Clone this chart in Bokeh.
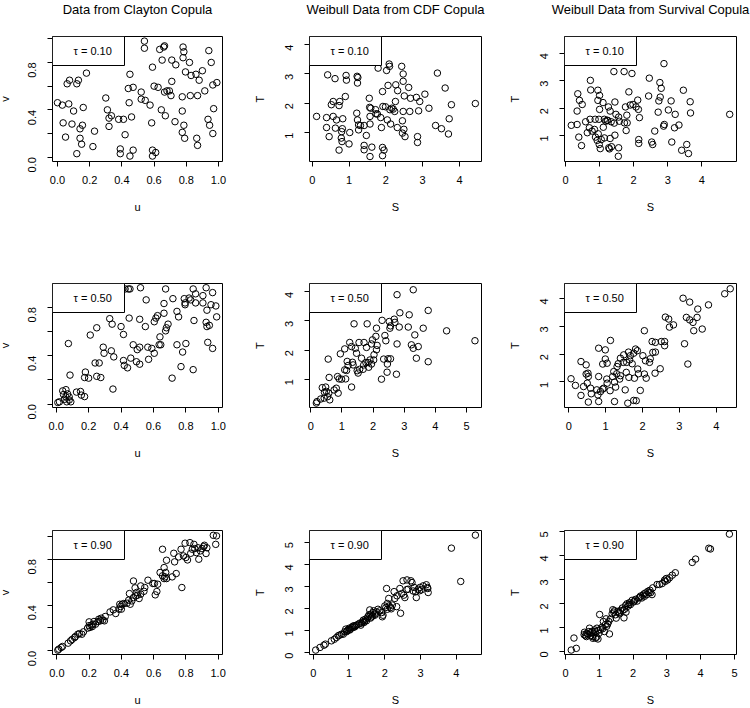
from bokeh.plotting import figure
from bokeh.models import FixedTicker, BoxAnnotation, Label, Range1d, PrintfTickFormatter, LinearAxis
from bokeh.layouts import row, column
from bokeh.embed import file_html
from bokeh.resources import INLINE

FONT = "Liberation Sans"

titles = ["Data from Clayton Copula", "Weibull Data from CDF Copula", "Weibull Data from Survival Copula"]
tau_labels = ["\u03c4 = 0.10", "\u03c4 = 0.50", "\u03c4 = 0.90"]
x_names = ["u", "S", "S"]
y_names = ["v", "T", "T"]

# ---------------- tau = 0.10 ----------------
clayton_u_t10 = [0.00, 0.03, 0.07, 0.10, 0.035, 0.09, 0.05, 0.06, 0.075, 0.12,
                 0.13, 0.18, 0.16, 0.155, 0.14, 0.14, 0.15, 0.12, 0.22, 0.23,
                 0.30, 0.31, 0.32, 0.335, 0.32, 0.38, 0.41, 0.42, 0.39, 0.39,
                 0.45, 0.44, 0.47, 0.445, 0.46, 0.47, 0.45, 0.52, 0.52, 0.545,
                 0.575, 0.54, 0.54, 0.59, 0.60, 0.625, 0.585, 0.59, 0.61, 0.59,
                 0.635, 0.66, 0.665, 0.65, 0.665, 0.68, 0.695, 0.705, 0.645, 0.67,
                 0.71, 0.71, 0.735, 0.73, 0.78, 0.785, 0.78, 0.795, 0.775, 0.775,
                 0.785, 0.775, 0.79, 0.82, 0.83, 0.825, 0.86, 0.88, 0.90, 0.87,
                 0.915, 0.865, 0.87, 0.94, 0.955, 0.965, 0.99, 0.97, 0.935, 0.945,
                 0.965]
clayton_v_t10 = [0.46, 0.44, 0.45, 0.39, 0.29, 0.28, 0.17, 0.62, 0.65, 0.62,
                 0.65, 0.71, 0.42, 0.27, 0.24, 0.16, 0.11, 0.03, 0.09, 0.22,
                 0.50, 0.40, 0.33, 0.35, 0.26, 0.32, 0.32, 0.19, 0.07, 0.03,
                 0.70, 0.58, 0.59, 0.46, 0.34, 0.06, 0.01, 0.55, 0.49, 0.48,
                 0.44, 0.98, 0.92, 0.76, 0.60, 0.59, 0.29, 0.06, 0.04, 0.01,
                 0.91, 0.93, 0.94, 0.82, 0.55, 0.56, 0.56, 0.52, 0.40, 0.35,
                 0.64, 0.82, 0.78, 0.30, 0.93, 0.89, 0.84, 0.72, 0.51, 0.39,
                 0.27, 0.21, 0.16, 0.80, 0.69, 0.52, 0.70, 0.65, 0.73, 0.52,
                 0.56, 0.16, 0.10, 0.90, 0.80, 0.61, 0.63, 0.41, 0.32, 0.27,
                 0.20]

cdf_s_t10 = [0.12, 0.39, 0.39, 0.46, 0.42, 0.62, 0.52, 0.57, 0.57, 0.66,
             0.63, 0.75, 0.73, 0.90, 0.92, 0.93, 0.83, 0.82, 0.80, 0.79,
             0.81, 0.73, 1.00, 1.02, 1.22, 1.24, 1.23, 1.21, 1.23, 1.26,
             1.26, 1.31, 1.41, 1.47, 1.41, 1.41, 1.57, 1.62, 1.55, 1.56,
             1.59, 1.72, 1.73, 1.77, 1.57, 1.57, 1.79, 1.86, 1.88, 1.91,
             1.95, 1.91, 1.91, 1.92, 1.99, 2.02, 2.09, 2.10, 2.06, 2.04,
             2.11, 2.16, 2.20, 2.24, 2.13, 2.26, 2.27, 2.32, 2.31, 2.43,
             2.47, 2.47, 2.50, 2.47, 2.45, 2.49, 2.45, 2.52, 2.62, 2.67,
             2.65, 2.83, 2.92, 2.89, 2.86, 2.86, 3.06, 3.17, 3.40, 3.35,
             3.51, 3.61, 3.72, 3.70, 3.78, 4.43]
cdf_t_t10 = [1.55, 1.51, 1.17, 0.86, 2.97, 2.84, 1.95, 2.06, 1.55, 1.43,
             1.15, 2.06, 1.92, 2.23, 2.95, 2.79, 1.47, 1.13, 1.03, 0.81,
             0.69, 0.40, 0.61, 1.00, 2.92, 2.88, 2.69, 1.66, 1.43, 1.26,
             1.09, 1.24, 1.24, 0.90, 0.56, 0.41, 0.18, 0.50, 2.17, 1.86,
             1.83, 1.78, 1.64, 1.63, 1.55, 1.29, 3.20, 1.51, 1.17, 0.49,
             0.40, 0.21, 2.40, 1.89, 1.88, 3.12, 3.34, 3.26, 2.61, 1.43,
             1.78, 1.83, 1.80, 1.72, 1.29, 2.06, 2.63, 2.43, 1.17, 3.26,
             3.00, 2.75, 2.25, 1.72, 1.40, 1.11, 0.98, 0.86, 2.54, 2.17,
             1.72, 2.20, 2.06, 1.74, 0.86, 0.66, 2.31, 1.83, 3.03, 1.24,
             1.13, 2.52, 1.47, 0.95, 1.95, 1.99]

surv_s_t10 = [0.17, 0.34, 0.34, 0.36, 0.41, 0.49, 0.39, 0.47, 0.59, 0.64,
              0.70, 0.72, 0.73, 0.74, 0.78, 0.85, 0.87, 0.88, 0.93, 0.95,
              0.95, 0.96, 0.98, 1.00, 1.00, 0.99, 1.02, 1.05, 1.10, 1.11,
              1.14, 1.14, 1.18, 1.22, 1.26, 1.24, 1.27, 1.29, 1.31, 1.31,
              1.35, 1.34, 1.42, 1.45, 1.45, 1.43, 1.48, 1.56, 1.58, 1.56,
              1.55, 1.72, 1.73, 1.76, 1.78, 1.80, 1.81, 1.86, 1.90, 1.95,
              1.98, 2.07, 2.12, 2.14, 2.17, 2.15, 2.15, 2.46, 2.44, 2.53,
              2.56, 2.62, 2.72, 2.74, 2.78, 2.77, 2.81, 2.88, 2.90, 2.89,
              3.02, 3.10, 3.12, 3.22, 3.20, 3.33, 3.46, 3.41, 3.56, 3.61,
              3.66, 3.67, 4.82]
surv_t_t10 = [1.37, 1.40, 1.89, 2.52, 2.28, 2.13, 0.94, 0.63, 1.50, 1.10,
              1.28, 1.59, 3.01, 2.66, 1.16, 1.22, 1.59, 0.94, 0.82, 2.65,
              2.28, 1.06, 1.59, 1.95, 2.46, 0.67, 0.52, 0.85, 2.20, 1.30,
              1.59, 0.91, 1.52, 1.55, 2.04, 1.55, 0.55, 0.51, 0.89, 1.89,
              0.59, 1.50, 3.33, 2.22, 1.01, 1.45, 1.77, 1.67, 1.52, 0.55,
              0.24, 3.33, 1.46, 2.04, 1.18, 1.74, 1.46, 2.59, 2.11, 3.26,
              2.13, 2.04, 2.29, 1.95, 1.65, 0.85, 0.71, 3.09, 2.44, 0.76,
              0.67, 1.16, 1.85, 2.26, 2.40, 2.93, 2.72, 1.34, 1.40, 3.62,
              1.93, 2.26, 0.76, 1.77, 1.28, 1.38, 2.65, 0.46, 0.67, 0.34,
              2.23, 1.82, 1.77]

# ---------------- tau = 0.50 ----------------
clayton_u_t50 = [0.01, 0.02, 0.04, 0.05, 0.06, 0.06, 0.07, 0.065, 0.08, 0.08,
                 0.09, 0.045, 0.075, 0.085, 0.125, 0.15, 0.155, 0.175, 0.18, 0.175,
                 0.20, 0.21, 0.24, 0.265, 0.25, 0.275, 0.25, 0.29, 0.295, 0.33,
                 0.345, 0.34, 0.355, 0.35, 0.40, 0.415, 0.415, 0.42, 0.44, 0.425,
                 0.445, 0.455, 0.45, 0.46, 0.475, 0.495, 0.50, 0.515, 0.515, 0.515,
                 0.52, 0.55, 0.555, 0.565, 0.57, 0.59, 0.605, 0.605, 0.615, 0.625,
                 0.64, 0.635, 0.645, 0.665, 0.665, 0.675, 0.675, 0.68, 0.69, 0.715,
                 0.72, 0.745, 0.755, 0.745, 0.77, 0.78, 0.79, 0.795, 0.795, 0.80,
                 0.82, 0.83, 0.845, 0.85, 0.845, 0.86, 0.86, 0.905, 0.905, 0.925,
                 0.925, 0.93, 0.93, 0.935, 0.945, 0.955, 0.965, 0.965, 0.985, 0.99]
clayton_v_t50 = [0.014, 0.02, 0.11, 0.04, 0.12, 0.06, 0.085, 0.02, 0.06, 0.035,
                 0.02, 0.08, 0.50, 0.24, 0.10, 0.105, 0.075, 0.063, 0.265, 0.22,
                 0.215, 0.57, 0.34, 0.34, 0.23, 0.22, 0.63, 0.47, 0.42, 0.705,
                 0.66, 0.44, 0.39, 0.125, 0.64, 0.575, 0.36, 0.32, 0.30, 0.95,
                 0.95, 0.95, 0.71, 0.38, 0.49, 0.35, 0.45, 0.33, 0.47, 0.70,
                 0.96, 0.64, 0.86, 0.47, 0.37, 0.46, 0.42, 0.68, 0.71, 0.73,
                 0.555, 0.49, 0.49, 0.75, 0.83, 0.95, 0.605, 0.63, 0.66, 0.215,
                 0.87, 0.765, 0.72, 0.49, 0.31, 0.43, 0.87, 0.835, 0.82, 0.50,
                 0.875, 0.86, 0.95, 0.69, 0.285, 0.91, 0.835, 0.895, 0.835, 0.96,
                 0.675, 0.64, 0.775, 0.51, 0.65, 0.82, 0.92, 0.46, 0.81, 0.72]

cdf_s_t50 = [0.18, 0.20, 0.32, 0.37, 0.44, 0.48, 0.43, 0.50, 0.54, 0.58,
             0.61, 0.56, 0.59, 0.75, 0.82, 0.88, 0.86, 0.91, 0.99, 0.95,
             1.09, 1.09, 1.12, 1.15, 1.17, 1.20, 1.25, 1.31, 1.31, 1.34,
             1.36, 1.39, 1.43, 1.47, 1.49, 1.52, 1.55, 1.57, 1.63, 1.68,
             1.70, 1.71, 1.77, 1.79, 1.81, 1.84, 1.86, 1.90, 1.95, 1.95,
             1.98, 2.02, 2.03, 2.11, 2.13, 2.09, 2.11, 2.27, 2.29, 2.34,
             2.38, 2.41, 2.45, 2.46, 2.48, 2.52, 2.54, 2.56, 2.56, 2.68,
             2.70, 2.75, 2.77, 2.77, 2.84, 2.86, 3.13, 3.16, 3.23, 3.29,
             3.29, 3.34, 3.39, 3.45, 3.61, 3.77, 3.77, 4.36, 5.27]
cdf_t_t50 = [0.18, 0.23, 0.32, 0.71, 0.55, 0.73, 0.35, 0.58, 0.40, 0.52,
             0.29, 1.69, 1.06, 0.63, 0.69, 0.52, 1.09, 1.01, 1.00, 1.87,
             2.04, 1.32, 1.01, 1.30, 1.61, 1.47, 2.26, 2.12, 0.73, 1.58,
             1.49, 2.90, 2.06, 1.89, 1.29, 1.21, 2.26, 1.34, 1.72, 1.34,
             1.49, 2.26, 1.57, 2.09, 2.90, 1.57, 1.41, 1.66, 1.52, 2.21,
             2.35, 1.66, 1.84, 2.01, 2.16, 2.47, 2.75, 1.00, 3.02, 1.69,
             2.50, 2.32, 1.24, 1.52, 1.70, 2.98, 2.75, 2.83, 1.70, 3.06,
             2.95, 1.17, 2.21, 3.90, 2.79, 3.28, 2.79, 3.21, 2.18, 4.07,
             2.06, 2.52, 1.72, 2.12, 2.75, 3.36, 1.60, 2.66, 2.32]

surv_s_t50 = [0.06, 0.18, 0.33, 0.33, 0.40, 0.47, 0.47, 0.52, 0.53, 0.50,
              0.53, 0.59, 0.61, 0.76, 0.79, 0.81, 0.81, 0.81, 0.86, 0.92,
              0.95, 0.92, 0.99, 0.99, 1.04, 1.03, 1.04, 1.12, 1.13, 1.19,
              1.22, 1.24, 1.27, 1.24, 1.30, 1.31, 1.34, 1.38, 1.40, 1.40,
              1.48, 1.49, 1.53, 1.56, 1.57, 1.60, 1.62, 1.63, 1.65, 1.67,
              1.72, 1.76, 1.76, 1.78, 1.81, 1.83, 1.86, 1.87, 1.89, 1.94,
              2.01, 2.05, 2.05, 2.08, 2.10, 2.19, 2.21, 2.26, 2.28, 2.35,
              2.35, 2.34, 2.48, 2.51, 2.60, 2.60, 2.62, 2.71, 2.73, 2.84,
              3.10, 3.14, 3.19, 3.23, 3.28, 3.28, 3.37, 3.39, 3.48, 3.50,
              3.62, 3.79, 4.23, 4.38]
surv_t_t50 = [1.11, 0.87, 0.51, 1.73, 0.83, 1.61, 1.28, 1.31, 1.19, 0.95,
              0.27, 0.77, 0.57, 0.71, 0.53, 2.21, 1.19, 0.29, 0.65, 0.74,
              0.77, 1.64, 2.15, 1.82, 1.67, 1.10, 0.95, 0.68, 2.49, 1.19,
              1.37, 0.99, 0.81, 0.29, 1.29, 1.55, 1.65, 1.10, 1.22, 1.85,
              1.70, 1.97, 0.71, 1.34, 1.70, 0.23, 2.07, 1.16, 1.79, 1.94,
              1.65, 2.03, 0.33, 1.13, 2.18, 0.32, 2.12, 1.46, 1.29, 0.69,
              1.94, 1.28, 2.84, 1.76, 1.13, 1.70, 1.83, 2.45, 2.06, 2.07,
              2.42, 1.31, 1.47, 2.45, 2.45, 2.30, 3.33, 3.26, 2.97, 3.05,
              4.01, 2.37, 3.32, 1.64, 3.87, 3.23, 3.14, 2.84, 3.32, 3.62,
              2.90, 3.77, 4.17, 4.35]

# ---------------- tau = 0.90 ----------------
clayton_u_t90 = [0.006, 0.012, 0.027, 0.035, 0.07, 0.085, 0.095, 0.11, 0.115, 0.13,
                 0.14, 0.155, 0.165, 0.19, 0.20, 0.205, 0.20, 0.215, 0.22, 0.225,
                 0.23, 0.24, 0.255, 0.26, 0.27, 0.275, 0.285, 0.295, 0.30, 0.33,
                 0.35, 0.365, 0.385, 0.39, 0.395, 0.40, 0.405, 0.415, 0.435, 0.445,
                 0.45, 0.455, 0.465, 0.475, 0.475, 0.485, 0.49, 0.495, 0.50, 0.51,
                 0.52, 0.52, 0.54, 0.545, 0.565, 0.595, 0.605, 0.61, 0.62, 0.625,
                 0.64, 0.655, 0.655, 0.665, 0.665, 0.67, 0.675, 0.68, 0.68, 0.715,
                 0.725, 0.73, 0.74, 0.755, 0.77, 0.775, 0.785, 0.795, 0.80, 0.81,
                 0.825, 0.83, 0.84, 0.85, 0.855, 0.865, 0.875, 0.88, 0.89, 0.90,
                 0.91, 0.915, 0.925, 0.93, 0.97, 0.99, 0.985]
clayton_v_t90 = [0.006, 0.015, 0.029, 0.038, 0.067, 0.087, 0.10, 0.116, 0.125, 0.145,
                 0.15, 0.145, 0.166, 0.198, 0.22, 0.204, 0.253, 0.224, 0.212, 0.233,
                 0.256, 0.233, 0.256, 0.276, 0.262, 0.285, 0.268, 0.262, 0.30, 0.34,
                 0.358, 0.326, 0.364, 0.407, 0.387, 0.364, 0.407, 0.413, 0.416, 0.442,
                 0.50, 0.407, 0.436, 0.61, 0.465, 0.55, 0.48, 0.51, 0.486, 0.457,
                 0.567, 0.495, 0.52, 0.553, 0.617, 0.588, 0.588, 0.489, 0.518, 0.582,
                 0.684, 0.887, 0.655, 0.727, 0.631, 0.646, 0.684, 0.791, 0.631, 0.646,
                 0.852, 0.777, 0.675, 0.82, 0.887, 0.553, 0.829, 0.94, 0.815, 0.794,
                 0.945, 0.852, 0.887, 0.93, 0.893, 0.858, 0.90, 0.80, 0.873, 0.893,
                 0.91, 0.922, 0.85, 0.90, 1.009, 1.004, 0.93]

cdf_s_t90 = [0.07, 0.19, 0.30, 0.34, 0.51, 0.59, 0.65, 0.70, 0.74, 0.79,
             0.84, 0.88, 0.91, 0.93, 0.98, 1.00, 1.04, 1.07, 1.10, 1.13,
             1.16, 1.21, 1.26, 1.30, 1.33, 1.38, 1.40, 1.42, 1.46, 1.49,
             1.52, 1.53, 1.56, 1.58, 1.60, 1.61, 1.66, 1.67, 1.69, 1.72,
             1.77, 1.81, 1.86, 1.91, 1.93, 1.95, 2.00, 2.03, 2.05, 2.07,
             2.07, 2.11, 2.12, 2.16, 2.21, 2.26, 2.28, 2.33, 2.34, 2.42,
             2.44, 2.47, 2.51, 2.53, 2.56, 2.62, 2.65, 2.73, 2.76, 2.79,
             2.82, 2.86, 2.88, 2.93, 2.98, 3.02, 3.07, 3.16, 3.19, 3.21,
             3.86, 4.12, 4.53, 0.95, 1.02, 1.11, 1.18, 1.35, 1.44, 1.63,
             1.74, 2.18, 2.61, 2.97, 3.20]
cdf_t_t90 = [0.11, 0.23, 0.33, 0.38, 0.53, 0.60, 0.68, 0.76, 0.79, 0.83,
             0.83, 0.94, 1.06, 0.94, 1.03, 1.10, 1.06, 1.13, 1.18, 1.21,
             1.16, 1.24, 1.28, 1.33, 1.24, 1.39, 1.47, 1.36, 1.51, 1.44,
             1.56, 1.63, 1.71, 1.93, 1.56, 1.74, 1.66, 1.81, 1.89, 1.69,
             1.84, 1.96, 1.89, 1.81, 1.62, 1.69, 2.11, 2.04, 2.90, 2.22,
             1.96, 2.45, 2.11, 2.04, 2.15, 2.76, 2.45, 2.08, 2.57, 2.90,
             1.78, 2.67, 3.25, 2.60, 2.49, 3.29, 2.87, 3.25, 3.17, 2.79,
             2.95, 2.75, 2.49, 2.87, 2.95, 2.84, 3.02, 3.07, 2.95, 2.72,
             4.73, 3.22, 5.32, 0.99, 1.02, 1.13, 1.22, 1.33, 1.42, 1.61,
             1.75, 1.98, 2.85, 2.80, 2.90]

surv_s_t90 = [0.17, 0.32, 0.25, 0.56, 0.59, 0.63, 0.69, 0.71, 0.74, 0.78,
              0.81, 0.84, 0.88, 0.89, 0.93, 0.96, 0.99, 1.01, 1.03, 1.08,
              1.12, 1.15, 1.20, 1.22, 1.25, 1.28, 1.30, 1.33, 1.38, 1.40,
              1.43, 1.48, 1.50, 1.55, 1.60, 1.63, 1.68, 1.73, 1.75, 1.78,
              1.79, 1.82, 1.85, 1.89, 1.92, 1.97, 2.01, 2.07, 2.12, 2.17,
              2.22, 2.26, 2.29, 2.34, 2.37, 2.41, 2.44, 2.47, 2.50, 2.56,
              2.58, 2.71, 2.78, 2.86, 2.93, 2.98, 3.08, 3.16, 3.25, 3.75,
              3.85, 4.24, 4.29, 4.85, 0.55, 0.62, 0.66, 0.75, 0.80, 0.86,
              0.92, 0.97, 1.10, 1.18, 1.45, 1.58, 1.70, 1.88, 2.04, 2.20,
              2.32, 2.52, 2.95, 3.02]
surv_t_t90 = [0.06, 0.13, 0.56, 0.80, 0.66, 0.76, 0.83, 0.97, 0.66, 0.83,
              0.55, 0.73, 0.83, 0.56, 0.97, 0.52, 0.76, 1.54, 0.91, 1.01,
              1.25, 0.83, 1.36, 1.05, 1.15, 1.25, 0.73, 1.36, 1.57, 1.74,
              1.64, 1.53, 1.39, 1.67, 1.57, 1.71, 1.81, 1.40, 1.76, 1.92,
              1.64, 1.99, 1.89, 2.03, 1.95, 2.13, 2.06, 2.17, 2.10, 2.23,
              2.31, 2.23, 2.34, 2.30, 2.44, 2.37, 2.51, 2.45, 2.55, 2.37,
              2.65, 2.79, 2.79, 2.83, 2.97, 3.04, 3.07, 3.18, 3.28, 3.71,
              3.85, 4.30, 4.27, 4.89, 0.70, 0.62, 0.72, 0.78, 0.62, 0.90,
              0.60, 0.88, 0.95, 1.12, 1.70, 1.62, 1.72, 1.96, 2.10, 2.26,
              2.40, 2.45, 2.92, 2.98]

# axis ranges and tick values
x_ranges = [[(-0.031, 1.025), (-0.073, 4.597), (-0.03, 5.02)],
            [(-0.023, 1.026), (-0.04, 5.48), (-0.117, 4.55)],
            [(-0.027, 1.027), (-0.103, 4.70), (-0.03, 5.06)]]
y_ranges = [[(-0.036, 1.019), (0.01, 4.28), (0.05, 4.61)],
            [(-0.027, 0.995), (0.028, 4.285), (0.075, 4.54)],
            [(-0.032, 1.051), (-0.09, 5.53), (-0.126, 5.04)]]
unit_ticks = [0.0, 0.2, 0.4, 0.6, 0.8, 1.0]
x_ticks = [[unit_ticks, [0, 1, 2, 3, 4], [0, 1, 2, 3, 4]],
           [unit_ticks, [0, 1, 2, 3, 4, 5], [0, 1, 2, 3, 4]],
           [unit_ticks, [0, 1, 2, 3, 4], [0, 1, 2, 3, 4, 5]]]
v_major = [0.0, 0.4, 0.8]
v_minor = [[0.2, 0.6, 1.0], [0.2, 0.6], [0.2, 0.6, 1.0]]
y_ticks = [[None, [1, 2, 3, 4], [1, 2, 3, 4]],
           [None, [1, 2, 3, 4], [1, 2, 3, 4]],
           [None, [0, 1, 2, 3, 4, 5], [0, 1, 2, 3, 4, 5]]]

data = [[(clayton_u_t10, clayton_v_t10), (cdf_s_t10, cdf_t_t10), (surv_s_t10, surv_t_t10)],
        [(clayton_u_t50, clayton_v_t50), (cdf_s_t50, cdf_t_t50), (surv_s_t50, surv_t_t50)],
        [(clayton_u_t90, clayton_v_t90), (cdf_s_t90, cdf_t_t90), (surv_s_t90, surv_t_t90)]]

# layout geometry (pixels; the layout origin sits at -8, -8)
COL_X0 = [-8, 250, 500]
FRAME_L = [52, 305, 560]
FRAME_W = [170, 172, 172]
CELL_W = [258, 250, 250]
ROW_Y0 = [-8, 250, 500]
FRAME_T = [36, 283, 530]
FRAME_H = [125, 124, 124]
CELL_H = [258, 250, 208]
YLAB_STANDOFF = [11, 13, 13]


def style_axis(ax, is_y, c):
    ax.axis_line_color = None
    ax.major_tick_out = 5
    ax.major_tick_in = 0
    ax.minor_tick_out = 5
    ax.minor_tick_in = 0
    ax.major_tick_line_color = "black"
    ax.minor_tick_line_color = "black"
    ax.major_label_text_font = FONT
    ax.major_label_text_font_size = "11px"
    ax.major_label_text_color = "black"
    ax.axis_label_text_font = FONT
    ax.axis_label_text_font_size = "11px"
    ax.axis_label_text_font_style = "normal"
    ax.axis_label_text_color = "black"
    if is_y:
        ax.major_label_standoff = 15
        ax.axis_label_standoff = YLAB_STANDOFF[c]
    else:
        ax.major_label_standoff = 9
        ax.axis_label_standoff = 14


def make_panel(r, c):
    xs, ys = data[r][c]
    xr, yr = x_ranges[r][c], y_ranges[r][c]
    bl = FRAME_L[c] - COL_X0[c]
    br = CELL_W[c] - bl - FRAME_W[c]
    bt = FRAME_T[r] - ROW_Y0[r]
    bb = CELL_H[r] - bt - FRAME_H[r]
    p = figure(frame_width=FRAME_W[c], frame_height=FRAME_H[r],
               x_range=Range1d(*xr), y_range=Range1d(*yr),
               output_backend="svg", toolbar_location=None,
               min_border_left=bl, min_border_right=br,
               min_border_top=bt, min_border_bottom=bb)
    p.grid.visible = False
    p.outline_line_color = "black"
    p.outline_line_width = 1
    p.outline_line_alpha = 1
    p.background_fill_color = "white"
    p.border_fill_color = "white"

    p.xaxis.axis_label = x_names[c]
    p.yaxis.axis_label = y_names[c]
    style_axis(p.xaxis[0], False, c)
    style_axis(p.yaxis[0], True, c)
    p.yaxis.major_label_orientation = 1.5707963267948966

    if c == 0:
        p.xaxis.ticker = FixedTicker(ticks=unit_ticks, minor_ticks=[])
        p.xaxis.formatter = PrintfTickFormatter(format="%.1f")
        p.yaxis.ticker = FixedTicker(ticks=v_major, minor_ticks=v_minor[r])
        p.yaxis.formatter = PrintfTickFormatter(format="%.1f")
    else:
        p.xaxis.ticker = FixedTicker(ticks=x_ticks[r][c], minor_ticks=[])
        p.xaxis.formatter = PrintfTickFormatter(format="%d")
        p.yaxis.ticker = FixedTicker(ticks=y_ticks[r][c], minor_ticks=[])
        p.yaxis.formatter = PrintfTickFormatter(format="%d")

    # column title: an empty axis above the frame carrying the title as its label
    if r == 0:
        tax = LinearAxis(ticker=FixedTicker(ticks=[], minor_ticks=[]),
                         axis_label=titles[c], axis_line_color=None,
                         major_tick_out=0, major_tick_in=0,
                         minor_tick_out=0, minor_tick_in=0,
                         major_label_standoff=0, axis_label_standoff=20,
                         axis_label_text_font=FONT, axis_label_text_font_size="13px",
                         axis_label_text_font_style="normal",
                         axis_label_text_color="black")
        p.add_layout(tax, "above")

    p.scatter(x=xs, y=ys, marker="circle", size=6.5, fill_color=None,
              line_color="black", line_width=1)

    dx = (xr[1] - xr[0]) / FRAME_W[c]
    dy = (yr[1] - yr[0]) / FRAME_H[r]

    # legend box in the top-left corner (72 x 29 px)
    box = BoxAnnotation(left=xr[0], right=xr[0] + 72 * dx,
                        top=yr[1], bottom=yr[1] - 29 * dy,
                        fill_color="white", fill_alpha=1.0,
                        line_color="black", line_width=1, line_alpha=1.0)
    p.add_layout(box)
    lab = Label(x=xr[0] + 21 * dx, y=yr[1] - 14.5 * dy, text=tau_labels[r],
                text_font=FONT, text_font_size="11px", text_color="black",
                text_align="left", text_baseline="middle")
    p.add_layout(lab)
    return p


rows = []
for r in range(3):
    rows.append(row(*[make_panel(r, c) for c in range(3)], spacing=0))
layout = column(*rows, spacing=0, margin=(-8, 0, -8, -8))

open("out.html", "w").write(file_html(layout, INLINE))
